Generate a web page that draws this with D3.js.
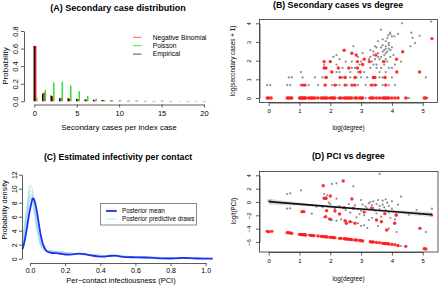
<!DOCTYPE html>
<html>
<head>
<meta charset="utf-8">
<script src="https://cdn.jsdelivr.net/npm/d3@7"></script>
<style>
  body { margin: 0; background: #fff; }
  svg { display: block; }
</style>
</head>
<body>
<div id="chart"></div>
<script>
// ---------- data ----------

// (A) secondary case distribution
const secCases = [0, 1, 2, 3, 4, 5, 6, 7, 8, 9, 10, 11, 12, 13, 14, 15, 16, 17, 18, 19, 20];
const empirical = [0.63, 0.09, 0.065, 0.035, 0.035, 0.028, 0.02, 0.018, 0.015, 0.008, 0.006, 0.004, 0.005, 0.003, 0.004, 0.005, 0.002, 0, 0.003, 0.002, 0.003];
const negBinom  = [0.63, 0.10, 0.058, 0.04, 0.032, 0.025, 0.02, 0.016, 0.013, 0.011, 0.009, 0.008, 0.007, 0.006, 0.005, 0.005, 0.004, 0.004, 0.003, 0.003, 0.003];
const poisson   = [0.04, 0.13, 0.215, 0.225, 0.18, 0.115, 0.06, 0.03, 0.012, 0.004, 0.001, 0, 0, 0, 0, 0, 0, 0, 0, 0, 0];
const ticksA_x = [0, 5, 10, 15, 20];
const ticksA_y = [0, 0.2, 0.4, 0.6, 0.8];

// (B) log(secondary cases + 1) vs log(degree)
const bGray = [
  [-0.05,0],[0.6,0],[0.72,0],[1.08,0],[1.25,0],[1.55,0],[1.95,0],[2.25,0],[2.4,0],[2.9,0],[3.15,0],[3.25,0],[3.6,0],[3.95,0],[4.2,0],[4.5,0],[4.55,0],[5.15,0],
  [-0.05,0.69],[0.05,0.69],[0.6,0.69],[0.7,0.69],[1.03,0.69],[1.15,0.69],[1.3,0.69],[1.6,0.69],[1.85,0.69],[2.05,0.69],[2.2,0.69],[2.3,0.69],[2.55,0.69],[2.75,0.69],[2.9,0.69],[3.15,0.69],[3.3,0.69],[3.5,0.69],[3.7,0.69],[3.9,0.69],[4.1,0.69],
  [0.65,1.1],[0.75,1.1],[1.1,1.1],[1.5,1.1],[1.75,1.1],[1.9,1.1],[2.4,1.1],[2.5,1.1],[2.65,1.1],[2.85,1.1],[3.0,1.1],[3.2,1.1],[3.4,1.1],[3.6,1.1],[3.7,1.1],[4.0,1.1],[5.1,1.1],
  [1.05,1.39],[2.2,1.39],[2.3,1.39],[2.65,1.39],[2.9,1.39],[3.1,1.39],[3.6,1.39],[3.8,1.39],
  [1.8,1.61],[2.4,1.61],[2.7,1.61],[2.8,1.61],[3.3,1.61],[3.5,1.61],[3.65,1.61],[3.9,1.61],[4.0,1.61],
  [1.8,1.79],[2.2,1.79],[2.95,1.79],[3.4,1.79],[3.5,1.79],[3.75,1.79],[4.1,1.79],
  [2.0,1.95],[2.5,1.95],[2.7,1.95],[3.0,1.95],[3.35,1.95],[3.7,1.95],[3.85,1.95],[4.3,1.95],
  [2.3,2.08],[3.25,2.08],[3.45,2.08],[3.6,2.08],[3.8,2.08],
  [2.1,2.2],[2.9,2.2],[3.3,2.2],[3.55,2.2],[3.65,2.2],[3.95,2.2],
  [2.2,2.3],[3.4,2.3],[3.75,2.3],[4.05,2.3],
  [3.05,2.4],[3.55,2.4],[3.8,2.4],
  [3.4,2.48],[3.7,2.48],[3.85,2.48],
  [3.3,2.56],[3.75,2.56],[3.95,2.56],
  [3.8,2.64],[3.9,2.64],
  [3.5,2.71],[3.65,2.71],[4.0,2.71],
  [2.75,2.77],[3.45,2.77],[3.8,2.77],[4.6,2.77],
  [3.7,2.83],[3.9,2.83],
  [3.9,2.94],[4.75,2.94],
  [3.55,3.04],[3.8,3.04],
  [3.7,3.14],[3.85,3.22],[4.67,3.22],[4.0,3.3],[4.08,3.3],[3.88,3.37],
  [3.95,3.43],[4.2,3.43],[3.94,3.5],[4.63,3.5],[4.9,3.33],[3.64,3.66],
  [4.33,4.0],[5.27,4.09]
];
const bRed = [
  [-0.05,0],[0.0,0],[0.08,0],[0.6,0],[0.65,0],[0.7,0],[0.75,0],[1.0,0],[1.03,0],[1.06,0],[1.1,0],[1.13,0],[1.17,0],[1.2,0],[1.3,0],[1.35,0],[1.4,0],[1.45,0],[1.5,0],[1.6,0],
  [1.7,0],[1.75,0],[1.8,0],[1.85,0],[1.9,0],[2.0,0],[2.05,0],[2.1,0],[2.15,0],[2.3,0],[2.35,0],[2.45,0],[2.5,0],[2.55,0],[2.6,0],[2.65,0],[2.7,0],[2.8,0],[2.85,0],[2.95,0],
  [3.0,0],[3.05,0],[3.3,0],[3.35,0],[3.4,0],[3.5,0],[3.6,0],[3.7,0],[3.75,0],[3.8,0],[3.85,0],[3.9,0],[4.0,0],[4.1,0],[4.2,0],[4.45,0],[5.05,0],[5.1,0],
  [1.1,0.69],[1.18,0.69],[1.83,0.69],[2.15,0.69],[2.48,0.69],[2.7,0.69],[2.8,0.69],[3.35,0.69],[3.45,0.69],[3.8,0.69],
  [1.86,1.1],[2.32,1.1],[2.48,1.1],[2.8,1.1],[3.4,1.1],[3.45,1.1],[3.78,1.1],
  [2.05,1.39],[2.97,1.39],[4.16,1.39],[4.9,1.39],
  [1.8,1.61],[1.86,1.61],[2.26,1.61],[2.6,1.61],[2.88,1.61],
  [3.05,1.79],
  [1.8,1.95],[2.0,1.95],[2.88,1.95],[3.27,1.95],[3.74,1.95],
  [3.1,2.08],[4.15,2.08],
  [2.84,2.3],[3.48,2.3],[2.7,2.4],[2.45,2.56],[4.35,2.48],[5.3,3.18]
];
const ticksB_x = [0, 1, 2, 3, 4, 5];
const ticksB_y = [0, 1, 2, 3, 4];

// (C) per-contact infectiousness densities
const pciX    = [-0.042, -0.03, -0.02, -0.01, 0.0, 0.008, 0.015, 0.022, 0.03, 0.04, 0.05, 0.06, 0.07, 0.08, 0.09, 0.1, 0.12, 0.14, 0.16, 0.18, 0.2, 0.22, 0.24, 0.26, 0.28, 0.3, 0.32, 0.34, 0.36, 0.38, 0.4, 0.42, 0.44, 0.46, 0.48, 0.5, 0.52, 0.55, 0.6, 0.65, 0.7, 0.75, 0.8, 0.85, 0.87, 0.9, 0.95, 1.0, 1.04];
const pciMean = [1.4, 2.6, 4.0, 5.6, 7.0, 8.0, 8.6, 8.5, 7.9, 6.6, 5.0, 3.5, 2.4, 1.7, 1.25, 1.0, 0.85, 0.8, 0.76, 0.68, 0.6, 0.58, 0.62, 0.7, 0.72, 0.7, 0.62, 0.52, 0.42, 0.35, 0.3, 0.3, 0.36, 0.42, 0.45, 0.4, 0.3, 0.22, 0.2, 0.17, 0.12, 0.05, 0.03, 0.08, 0.12, 0.08, 0.03, 0.02, 0.0];
const drawX = [-0.042, -0.02, 0, 0.01, 0.02, 0.04, 0.06, 0.08, 0.1, 0.15, 0.2, 0.25, 0.3, 0.4, 0.5, 0.6, 0.7, 0.8, 0.9, 1.0, 1.04];
const draw1 = [2.8, 6.5, 10.5, 10.2, 8.8, 5.2, 2.6, 1.5, 1.2, 1.05, 0.9, 0.75, 0.65, 0.5, 0.4, 0.3, 0.2, 0.15, 0.1, 0.05, 0.02];
const draw2 = [2.5, 6.0, 9.8, 9.6, 8.4, 5.0, 2.4, 1.4, 1.15, 1.0, 0.85, 0.72, 0.6, 0.48, 0.38, 0.28, 0.2, 0.14, 0.1, 0.05, 0.02];
const draw3 = [2.2, 5.6, 9.3, 9.2, 8.0, 4.6, 2.2, 1.3, 1.1, 1.0, 0.8, 0.7, 0.6, 0.45, 0.36, 0.27, 0.19, 0.13, 0.09, 0.05, 0.02];
const draw4 = [2.0, 5.2, 8.9, 8.8, 7.6, 4.4, 2.0, 1.25, 1.1, 0.95, 0.8, 0.68, 0.58, 0.45, 0.35, 0.26, 0.18, 0.12, 0.08, 0.05, 0.02];
const draw5 = [3.0, 6.8, 9.0, 8.5, 7.2, 4.0, 1.9, 1.2, 1.0, 0.9, 0.78, 0.66, 0.56, 0.44, 0.34, 0.25, 0.18, 0.12, 0.08, 0.04, 0.02];
const draw6 = [1.8, 5.0, 8.5, 8.6, 7.8, 4.8, 2.3, 1.35, 1.15, 1.05, 0.88, 0.73, 0.62, 0.46, 0.37, 0.28, 0.2, 0.14, 0.09, 0.05, 0.02];
const ticksC_x = [0, 0.2, 0.4, 0.6, 0.8, 1.0];
const ticksC_y = [0, 2, 4, 6, 8, 10, 12];

// (D) logit(PCI) vs log(degree)
const dGray = [
  [1.3,-4.95],[1.5,-5.05],[2.1,-5.35],[2.6,-5.55],[3.3,-6.0],[3.5,-6.1],[3.75,-6.2],[4.0,-6.35],[4.2,-6.5],[4.3,-6.6],
  [0,0.2],[0.1,0.25],[0.05,0.15],[0.6,1.2],[0.7,1.3],[1.05,1.75],[0.6,-1.0],[0.7,-0.95],[1.1,-1.5],[1.4,-1.75],[1.55,-0.7],[1.75,-0.8],
  [1.8,1.2],[1.85,0.5],[1.95,-0.1],[2.05,2.7],[2.2,2.8],[2.75,2.35],[3.6,4.2],[4.3,0.8],[1.8,-2.3],[1.95,-2.5],[2.05,-2.7],[2.2,-2.8],
  [2.35,-2.6],[2.5,-2.9],[2.7,-3.0],[2.9,-3.2],[3.0,-3.6],[3.1,-3.5],[3.2,-3.9],[3.55,-3.6],[3.9,-4.0],[4.15,-4.5],[5.1,-4.5],[5.3,-1.0],
  [4.8,-1.2],[4.9,-1.8],[4.55,-1.9],[4.05,-1.4],[2.3,-0.6],[2.4,-0.9],[2.5,-1.2],[2.6,-0.3],[2.65,-1.6],[2.8,-0.5],[2.9,-1.1],[2.95,-1.8],
  [3.0,-1.3],[3.05,-0.4],[3.1,-2.0],[3.15,-0.7],[3.2,-1.0],[3.25,-0.2],[3.3,0.0],[3.35,-0.5],[3.4,0.1],[3.4,-0.9],[3.45,-1.3],[3.5,-0.3],
  [3.5,-1.7],[3.55,0.3],[3.6,-0.6],[3.6,-1.1],[3.65,-2.2],[3.7,-0.4],[3.7,0.2],[3.75,-0.8],[3.8,0.4],[3.8,-1.2],[3.85,-0.1],[3.9,-0.6],
  [3.9,-1.6],[3.95,-2.4],[4.0,-1.0],[4.0,0.1],[4.1,-2.6],[4.15,-1.8],[4.2,-0.4],[4.4,-1.5],[3.35,-2.4],[3.25,-2.7],[2.0,-0.3],[2.15,-1.0],
  [1.9,1.0],[2.85,-2.3],[3.0,0.3],[2.2,0.5]
];
const dRed = [
  [-0.05,-4.4],[0.0,-4.45],[0.1,-4.4],[0.6,-4.6],[0.65,-4.6],[0.7,-4.65],[0.75,-4.7],[1.0,-4.85],[1.03,-4.85],[1.06,-4.9],[1.1,-4.9],[1.13,-4.9],
  [1.17,-4.92],[1.2,-4.95],[1.35,-5.0],[1.4,-5.0],[1.45,-5.05],[1.6,-5.1],[1.7,-5.15],[1.75,-5.15],[1.8,-5.2],[1.85,-5.22],[1.9,-5.25],[2.0,-5.3],
  [2.05,-5.3],[2.1,-5.35],[2.15,-5.35],[2.3,-5.45],[2.35,-5.45],[2.45,-5.5],[2.5,-5.55],[2.55,-5.55],[2.6,-5.6],[2.65,-5.6],[2.7,-5.65],[2.8,-5.7],
  [2.85,-5.7],[2.95,-5.75],[3.0,-5.8],[3.05,-5.85],[3.3,-5.95],[3.35,-6.0],[3.4,-6.0],[3.5,-6.05],[3.6,-6.1],[3.7,-6.2],[3.75,-6.2],[3.8,-6.25],
  [3.85,-6.25],[3.9,-6.3],[4.0,-6.35],[4.1,-6.4],[4.2,-6.55],[4.45,-6.65],[5.05,-7.0],[5.1,-7.05],
  [1.77,2.45],[2.42,3.15],[1.8,0.55],[1.86,0.55],[2.0,0.9],[1.08,-1.45],[1.14,-1.45],[1.88,-1.3],[2.15,-1.35],[2.3,-1.8],[2.45,-0.85],
  [2.48,-2.8],[2.52,-3.2],[2.7,0.45],[2.75,-0.95],[2.64,-2.95],[2.8,-3.2],[3.34,-0.95],[3.5,-2.7],[3.66,-2.95],[3.77,-1.75],[3.83,-4.2],
  [4.14,-2.0],[4.09,-3.2],[4.91,-3.95],[5.29,-1.95],[3.1,-1.5],[1.85,-2.2],[2.0,-2.6]
];
const fitX   = [0, 1, 2, 3, 4, 5.3];
const fitY   = [0.05, -0.32, -0.69, -1.06, -1.42, -1.9];
const fitLo  = [-0.4, -0.57, -0.81, -1.18, -1.64, -2.3];
const fitHi  = [0.5, -0.07, -0.57, -0.94, -1.2, -1.5];
const ticksD_x = [0, 1, 2, 3, 4, 5];
const ticksD_y = [-6, -4, -2, 0, 2, 4];

// ---------- drawing ----------
const FONT = "'Liberation Sans', Arial, Helvetica, sans-serif";
const AX = "#333";

const svg = d3.select("#chart").append("svg")
  .attr("width", 440).attr("height", 285)
  .style("font-family", FONT);

function label(x, y, s, size, opts) {
  opts = opts || {};
  const t = svg.append("text")
    .attr("transform", `translate(${x},${y})` + (opts.rot ? " rotate(-90)" : ""))
    .attr("text-anchor", opts.anchor || "middle")
    .attr("font-size", size)
    .attr("font-weight", opts.bold ? "bold" : null)
    .attr("fill", "#000")
    .text(s);
  return t;
}

// bottom axis, R style: line spans first to last tick
function axisB(y0, scale, ticks, fmt, fs, tick, pad) {
  const g = svg.append("g").attr("transform", `translate(0,${y0})`)
    .call(d3.axisBottom(scale).tickValues(ticks).tickFormat(fmt).tickSize(tick).tickSizeOuter(0).tickPadding(pad));
  g.attr("font-family", FONT).attr("font-size", fs);
  g.selectAll("path,line").attr("stroke", AX).attr("stroke-width", 0.8);
  g.selectAll("text").attr("fill", "#000");
  return g;
}
// left axis with labels rotated like R's las=0
function axisL(x0, scale, ticks, fmt, fs, tick, off) {
  const g = svg.append("g").attr("transform", `translate(${x0},0)`)
    .call(d3.axisLeft(scale).tickValues(ticks).tickFormat(fmt).tickSize(tick).tickSizeOuter(0));
  g.attr("font-family", FONT).attr("font-size", fs);
  g.selectAll("path,line").attr("stroke", AX).attr("stroke-width", 0.8);
  g.selectAll("text")
    .attr("transform", "rotate(-90)")
    .attr("x", 0).attr("y", -off).attr("dy", 0)
    .attr("text-anchor", "middle").attr("fill", "#000");
  return g;
}

// ===== (A) =====
{
  const x = d3.scaleLinear().domain([0, 20]).range([34.3, 204]);
  const y = d3.scaleLinear().domain([0, 0.8]).range([101.3, 31]);
  const series = [
    { vals: empirical, off: 0,    col: "#000" },
    { vals: negBinom,  off: 0.16, col: "#ee1111" },
    { vals: poisson,   off: 0.3,  col: "#33dd33" }
  ];
  const gA = svg.append("g");
  series.forEach(s => {
    gA.append("g").selectAll("line")
      .data(secCases.map((k, i) => ({ k, v: s.vals[i] })).filter(d => d.v > 0))
      .join("line")
      .attr("x1", d => x(d.k + s.off)).attr("x2", d => x(d.k + s.off))
      .attr("y1", y(0)).attr("y2", d => y(d.v))
      .attr("stroke", s.col).attr("stroke-width", 1.5);
  });
  axisB(104.5, x, ticksA_x, d3.format("d"), 7.5, 3, 3.5);
  axisL(24, y, ticksA_y, d3.format(".1f"), 7.5, 3, 6.5);
  label(118, 11, "(A) Secondary case distribution", 9, { bold: true });
  label(119, 129.5, "Secondary cases per index case", 8);
  label(7.5, 66, "Probability", 8, { rot: true });

  const leg = [["Negative Binomial", "#ff6666"], ["Poisson", "#44dd44"], ["Empirical", "#555"]];
  leg.forEach((l, i) => {
    const yy = 37.3 + i * 8.4;
    svg.append("line").attr("x1", 133).attr("x2", 141.5).attr("y1", yy).attr("y2", yy)
      .attr("stroke", l[1]).attr("stroke-width", 1);
    label(152.7, yy + 2.3, l[0], 6.7, { anchor: "start" });
  });
}

// ===== (B) =====
{
  const x = d3.scaleLinear().domain([0, 5]).range([268.7, 422.7]);
  const y = d3.scaleLinear().domain([0, 4]).range([98, 23.3]);
  svg.append("rect").attr("x", 259.5).attr("y", 19.5).attr("width", 178).attr("height", 83)
    .attr("fill", "none").attr("stroke", AX).attr("stroke-width", 0.8);
  svg.append("g").selectAll("circle").data(bGray).join("circle")
    .attr("cx", d => x(d[0])).attr("cy", d => y(d[1])).attr("r", 1.1).attr("fill", "#8c8c8c");
  svg.append("g").selectAll("circle").data(bRed).join("circle")
    .attr("cx", d => x(d[0])).attr("cy", d => y(d[1])).attr("r", 1.7).attr("fill", "#ff1a1a").attr("fill-opacity", 0.9);
  axisB(102.5, x, ticksB_x, d3.format("d"), 6, 3.5, 3);
  axisL(259.5, y, ticksB_y, d3.format("d"), 6, 3.5, 9);
  label(338, 8, "(B) Secondary cases vs degree", 8.8, { bold: true });
  label(348.5, 129.5, "log(degree)", 6.3);
  label(235, 61, "log(secondary cases + 1)", 6.3, { rot: true });
}

// ===== (C) =====
{
  const x = d3.scaleLinear().domain([0, 1]).range([30, 205.7]);
  const y = d3.scaleLinear().domain([0, 12]).range([258.7, 174.7]);
  const lineFn = xs => d3.line().x((d, i) => x(xs[i])).y(d => y(d)).curve(d3.curveMonotoneX);
  const draws = [draw1, draw2, draw3, draw4, draw5, draw6];
  svg.append("g").selectAll("path").data(draws).join("path")
    .attr("d", lineFn(drawX)).attr("fill", "none")
    .attr("stroke", "#9fdbe8").attr("stroke-width", 0.9).attr("stroke-opacity", 0.8);
  svg.append("path").datum(pciMean).attr("d", lineFn(pciX))
    .attr("fill", "none").attr("stroke", "#1f2ff0").attr("stroke-width", 1.8);
  axisB(263, x, ticksC_x, d3.format(".1f"), 7, 3, 2.5);
  axisL(22, y, ticksC_y, d3.format("d"), 7, 3, 5.5);
  label(118, 160, "(C) Estimated infectivity per contact", 8.7, { bold: true });
  label(121, 283, "Per\u2212contact infectiousness (PCI)", 7.5);
  label(7, 210, "Probability density", 7.3, { rot: true });

  svg.append("rect").attr("x", 100.5).attr("y", 203.5).attr("width", 96).attr("height", 21.5)
    .attr("fill", "#fff").attr("stroke", "#555").attr("stroke-width", 0.7);
  [["Posterior mean", "#1f2ff0", 1.8], ["Posterior predictive draws", "#bfe8f1", 1]].forEach((l, i) => {
    const yy = 211 + i * 8;
    svg.append("line").attr("x1", 106).attr("x2", 116.7).attr("y1", yy).attr("y2", yy)
      .attr("stroke", l[1]).attr("stroke-width", l[2]);
    label(122, yy + 2.2, l[0], 6.3, { anchor: "start" });
  });
}

// ===== (D) =====
{
  const x = d3.scaleLinear().domain([0, 5]).range([268.7, 422.7]);
  const y = d3.scaleLinear().domain([-6, 4]).range([242, 175.3]);
  svg.append("rect").attr("x", 259.5).attr("y", 171.5).attr("width", 178.5).attr("height", 80.5)
    .attr("fill", "none").attr("stroke", AX).attr("stroke-width", 0.8);
  svg.append("g").selectAll("circle").data(dGray).join("circle")
    .attr("cx", d => x(d[0])).attr("cy", d => y(d[1])).attr("r", 1.1).attr("fill", "#8c8c8c");
  svg.append("g").selectAll("circle").data(dRed).join("circle")
    .attr("cx", d => x(d[0])).attr("cy", d => y(d[1])).attr("r", 1.7).attr("fill", "#ff1a1a").attr("fill-opacity", 0.9);
  const band = d3.area().x((d, i) => x(fitX[i])).y0((d, i) => y(fitLo[i])).y1((d, i) => y(fitHi[i])).curve(d3.curveMonotoneX);
  svg.append("path").datum(fitX).attr("d", band).attr("fill", "#c8c8c8").attr("fill-opacity", 0.6);
  svg.append("path").datum(fitY)
    .attr("d", d3.line().x((d, i) => x(fitX[i])).y(d => y(d)))
    .attr("fill", "none").attr("stroke", "#111").attr("stroke-width", 1.6);
  axisB(252, x, ticksD_x, d3.format("d"), 6, 3.5, 3);
  axisL(259.5, y, ticksD_y, d3.format("d"), 6, 3.5, 9);
  label(348.3, 158.5, "(D) PCI vs degree", 8.8, { bold: true });
  label(348.5, 281, "log(degree)", 6.3);
  label(235.5, 211, "logit(PCI)", 6.3, { rot: true });
}
</script>
</body>
</html>
